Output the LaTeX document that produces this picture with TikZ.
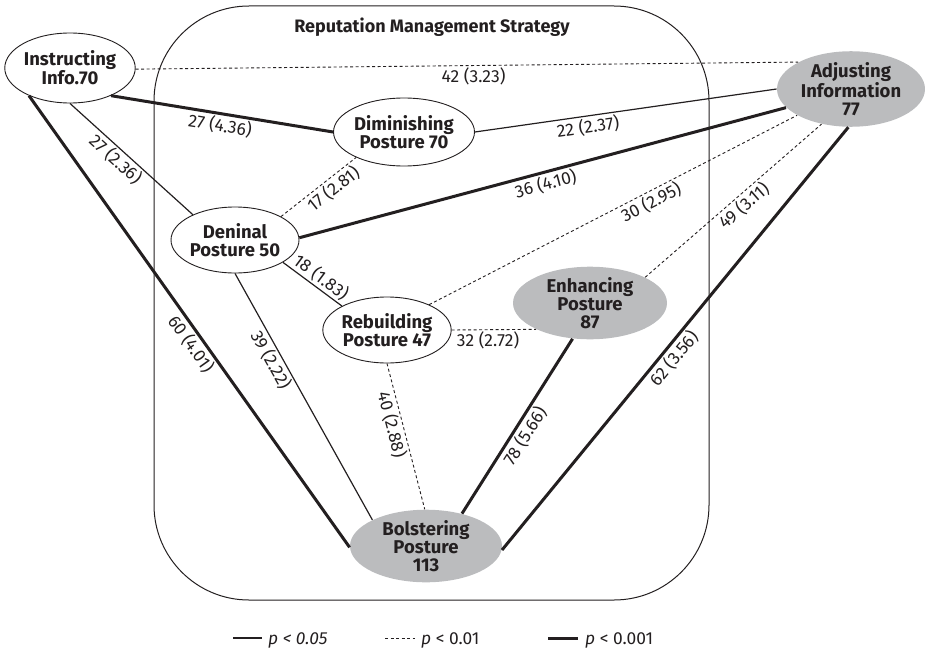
\documentclass[tikz,border=0pt]{standalone}
\usepackage{fontspec}
\setmainfont{Fira Sans}
\usetikzlibrary{shapes.geometric}
\definecolor{ink}{RGB}{35,31,32}
\definecolor{shade}{RGB}{187,188,190}

\begin{document}
\begin{tikzpicture}[x=1pt,y=-1pt,
  every node/.style={text=ink},
  post/.style={ellipse, draw=ink, line width=0.9pt, fill=white, inner sep=0pt,
    align=center, font=\fontsize{18.5}{18}\selectfont\bfseries},
  hub/.style={post, draw=none, fill=shade},
  lbl/.style={font=\fontsize{17.5}{17.5}\selectfont, inner sep=1.5pt, sloped},
  sig/.style={draw=ink, line width=1.2pt},
  sigdash/.style={draw=ink, line width=0.9pt, dash pattern=on 3pt off 2.5pt},
  sigbold/.style={draw=ink, line width=3pt},
  key/.style={font=\fontsize{17.4}{17.4}\selectfont, anchor=base west, inner sep=0pt},
]
\useasboundingbox (0,0) rectangle (925,650);

% strategy frame and its heading
\draw[ink, line width=1pt, rounded corners=95pt] (154,6) rectangle (709,600);
\node[font=\fontsize{18}{18}\selectfont\bfseries] (title) at (432,27) {Reputation Management Strategy};

% postures and information sources
\node[post, minimum width=126pt, minimum height=70pt] (inst) at (70,68)  {Instructing\\Info.70};
\node[post, minimum width=128pt, minimum height=68pt] (dim)  at (404,132) {Diminishing\\Posture 70};
\node[post, minimum width=128pt, minimum height=66pt] (den)  at (235,240) {Deninal\\Posture 50};
\node[post, minimum width=128pt, minimum height=66pt] (reb)  at (387,330) {Rebuilding\\Posture 47};
\node[hub,  minimum width=148pt, minimum height=72pt] (adj)  at (851,89)  {Adjusting\\Information\\77};
\node[hub,  minimum width=154pt, minimum height=72pt] (enh)  at (590,303) {Enhancing\\Posture\\87};
\node[hub,  minimum width=152pt, minimum height=72pt] (bol)  at (426,546) {Bolstering\\Posture\\113};

% links
\draw[sigdash] (inst.-1)  -- node[lbl, below, pos=0.51, sloped=false] {42 (3.23)} (adj.153);
\draw[sigbold] (inst.-34) -- node[lbl, below, pos=0.50] {27 (4.36)} (dim.180);
\draw[sig]     (inst.-90) -- node[lbl, below, pos=0.43] {27 (2.36)} (den.149);
\draw[sigbold] (inst.214) -- node[lbl, below, pos=0.535] {60 (4.01)} (bol.181);
\draw[sig]     (dim.0)    -- node[lbl, below, pos=0.37] {22 (2.37)} (adj.180);
\draw[sigdash] (den.27)   -- node[lbl, below, pos=0.61] {17 (2.81)} (dim.208);
\draw[sigbold] (den.2)    -- node[lbl, below, pos=0.50] {36 (4.10)} (adj.196);
\draw[sig]     (den.-25)  -- node[lbl, above, pos=0.54] {18 (1.83)} (reb.152);
\draw[sig]     (den.-90)  -- node[lbl, below, pos=0.33] {39 (2.22)} (bol.154);
\draw[sigdash] (reb.31)   -- node[lbl, below, pos=0.59] {30 (2.95)} (adj.206);
\draw[sigdash] (enh.25)   -- node[lbl, below, pos=0.52] {49 (3.11)} (adj.230);
\draw[sigdash] (reb.0)    -- node[lbl, below, pos=0.43] {32 (2.72)} (enh.206);
\draw[sigdash] (reb.-90)  -- node[lbl, below, pos=0.40] {40 (2.88)} (bol.92);
\draw[sigbold] (bol.42)   -- node[lbl, below, pos=0.48] {78 (5.66)} (enh.244);
\draw[sigbold] (bol.-3)   -- node[lbl, below, pos=0.47] {62 (3.56)} (adj.266);

% legend
\coordinate (k1a) at (233,638); \coordinate (k1b) at (262,638);
\coordinate (k2a) at (385,638); \coordinate (k2b) at (415,638);
\coordinate (k3a) at (548,638); \coordinate (k3b) at (578,638);
\draw[sig]     (k1a) -- (k1b);
\draw[sigdash] (k2a) -- (k2b);
\draw[sigbold] (k3a) -- (k3b);
\node[key] (t1) at (268,644) {\itshape p < 0.05};
\node[key] (t2) at (421,644) {\itshape p\upshape{} < 0.01};
\node[key] (t3) at (585,644) {\itshape p\upshape{} < 0.001};
\end{tikzpicture}
\end{document}
